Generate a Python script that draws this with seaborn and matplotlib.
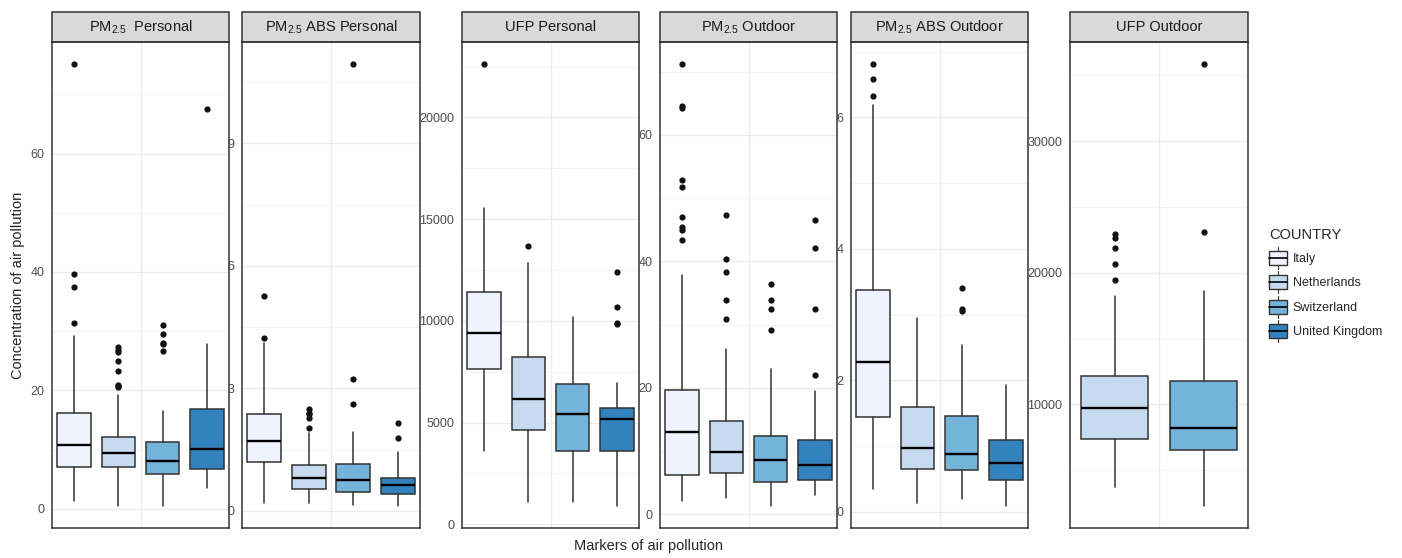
import numpy as np
import pandas as pd
import seaborn as sns
import matplotlib
matplotlib.use("Agg")
import matplotlib.pyplot as plt
from matplotlib.patches import Rectangle, Patch
from matplotlib.lines import Line2D
from matplotlib.legend_handler import HandlerBase

# ---------------- data ----------------
countries = ["Italy", "Netherlands", "Switzerland", "United Kingdom"]
country_colors = ["#eff3ff", "#c6dbef", "#74b3da", "#3182bd"]

# five-number summaries per country: [whisker low, Q1, median, Q3, whisker high]
pm25_personal_box = [[1.4, 7.1, 10.8, 16.2, 29.2],
                     [0.5, 7.0, 9.4, 12.2, 19.3],
                     [0.5, 5.85, 8.15, 11.3, 16.5],
                     [3.6, 6.7, 10.1, 16.8, 27.8]]
pm25_personal_out = [[31.3, 37.4, 39.7, 75.1],
                     [20.5, 20.7, 20.9, 23.3, 25.0, 26.5, 26.9, 27.4],
                     [26.6, 27.8, 28.0, 29.5, 31.1],
                     [67.6]]

pm25abs_personal_box = [[0.18, 1.20, 1.70, 2.38, 4.12],
                        [0.20, 0.53, 0.81, 1.12, 1.91],
                        [0.15, 0.47, 0.76, 1.14, 1.94],
                        [0.12, 0.41, 0.62, 0.81, 1.43]]
pm25abs_personal_out = [[4.24, 5.26],
                        [2.04, 2.28, 2.36, 2.40, 2.50],
                        [2.61, 3.22, 10.94],
                        [1.79, 2.16]]

ufp_personal_box = [[3600, 7640, 9410, 11410, 15550],
                    [1110, 4650, 6170, 8220, 12850],
                    [1110, 3600, 5400, 6880, 10180],
                    [900, 3600, 5190, 5730, 6950]]
ufp_personal_out = [[22620],
                    [13700],
                    [],
                    [9820, 9900, 10680, 12410]]

pm25_outdoor_box = [[2.0, 6.2, 13.0, 19.7, 37.9],
                    [2.6, 6.5, 9.9, 14.8, 26.1],
                    [1.3, 5.05, 8.5, 12.4, 23.0],
                    [3.0, 5.4, 7.7, 11.8, 19.5]]
pm25_outdoor_out = [[43.4, 44.9, 45.5, 47.0, 51.8, 52.9, 64.2, 64.5, 71.2],
                    [30.8, 33.9, 38.3, 40.4, 47.3],
                    [29.2, 32.4, 33.9, 36.4],
                    [22.0, 32.4, 42.1, 46.5]]

pm25abs_outdoor_box = [[0.34, 1.44, 2.28, 3.37, 6.19],
                       [0.14, 0.65, 0.97, 1.60, 2.95],
                       [0.19, 0.63, 0.88, 1.46, 2.53],
                       [0.09, 0.49, 0.75, 1.09, 1.93]]
pm25abs_outdoor_out = [[6.33, 6.58, 6.81],
                       [],
                       [3.05, 3.08, 3.40],
                       []]

ufp_outdoor_countries = ["Netherlands", "Switzerland"]
ufp_outdoor_box = [[3740, 7390, 9720, 12150, 18220],
                   [2280, 6530, 8220, 11770, 18600]]
ufp_outdoor_out = [[19415, 20630, 21890, 22650, 22910],
                   [23080, 35860]]

panel_titles = [r"PM$_{2.5}$  Personal", r"PM$_{2.5}$ ABS Personal", "UFP Personal",
                r"PM$_{2.5}$ Outdoor", r"PM$_{2.5}$ ABS Outdoor", "UFP Outdoor"]
panel_ticks = [[0, 20, 40, 60], [0, 3, 6, 9], [0, 5000, 10000, 15000, 20000],
               [0, 20, 40, 60], [0, 2, 4, 6], [10000, 20000, 30000]]

# ---------------- style ----------------
sns.set_theme(style="white")
plt.rcParams['font.family'] = ['Liberation Sans', 'DejaVu Sans']
plt.rcParams['mathtext.fontset'] = 'custom'
plt.rcParams['mathtext.rm'] = 'Liberation Sans'
plt.rcParams['mathtext.it'] = 'Liberation Sans:italic'
plt.rcParams['mathtext.default'] = 'regular'

W, H = 1402, 558
fig = plt.figure(figsize=(W / 100, H / 100), dpi=100)
fig.patch.set_facecolor("white")

panel_x = [(52, 229), (242, 420), (462, 639), (660, 837), (851, 1028), (1070, 1248)]
top_px, bot_px = 42, 528
strip_px = 30

panel_data = [
    (countries, pm25_personal_box, pm25_personal_out),
    (countries, pm25abs_personal_box, pm25abs_personal_out),
    (countries, ufp_personal_box, ufp_personal_out),
    (countries, pm25_outdoor_box, pm25_outdoor_out),
    (countries, pm25abs_outdoor_box, pm25abs_outdoor_out),
    (ufp_outdoor_countries, ufp_outdoor_box, ufp_outdoor_out),
]
color_of = dict(zip(countries, country_colors))

for (x0, x1), title, ticks, (cats, boxes, outs) in zip(panel_x, panel_titles, panel_ticks, panel_data):
    ax = fig.add_axes([x0 / W, (H - bot_px) / H, (x1 - x0) / W, (bot_px - top_px) / H])
    n = len(cats)
    stats = [dict(whislo=b[0], q1=b[1], med=b[2], q3=b[3], whishi=b[4], fliers=o, label=c)
             for c, b, o in zip(cats, boxes, outs)]
    bp = ax.bxp(stats, positions=list(range(n)), widths=0.76, patch_artist=True,
                showcaps=False, showfliers=True,
                boxprops=dict(edgecolor="#333333", linewidth=1.1),
                medianprops=dict(color="black", linewidth=1.7, solid_capstyle="butt"),
                whiskerprops=dict(color="#333333", linewidth=1.1),
                flierprops=dict(marker="o", markerfacecolor="#111111",
                                markeredgecolor="none", markersize=4.5))
    for patch, c in zip(bp["boxes"], cats):
        patch.set_facecolor(color_of[c])
        patch.set_zorder(2)

    vals = [v for b in boxes for v in b] + [v for o in outs for v in o]
    lo, hi = min(vals), max(vals)
    pad = 0.05 * (hi - lo)
    ax.set_ylim(lo - pad, hi + pad)
    ax.set_xlim(-0.5, n - 0.5)

    step = ticks[1] - ticks[0]
    minors = [t for t in np.arange(ticks[0] - step / 2, hi + pad + step, step)
              if lo - pad <= t <= hi + pad]
    ax.set_yticks(ticks)
    ax.set_yticklabels([str(t) for t in ticks])
    ax.set_yticks(minors, minor=True)
    ax.set_xticks([(n - 1) / 2])
    ax.set_xticklabels([""])
    ax.grid(which="major", color="#ebebeb", linewidth=0.9)
    ax.grid(which="minor", axis="y", color="#f0f0f0", linewidth=0.6)
    ax.set_axisbelow(True)
    ax.tick_params(axis="y", which="both", length=0, pad=5.5, labelsize=9, labelcolor="#4d4d4d")
    ax.tick_params(axis="x", length=0)
    for s in ax.spines.values():
        s.set_color("#333333")
        s.set_linewidth(1.1)
    ax.set_xlabel("")
    ax.set_ylabel("")

    sh = strip_px / (bot_px - top_px)
    ax.add_patch(Rectangle((0, 1), 1, sh, transform=ax.transAxes, clip_on=False,
                           facecolor="#d9d9d9", edgecolor="#333333", linewidth=1.1))
    ax.text(0.5, 1 + sh / 2, title, transform=ax.transAxes, ha="center", va="center",
            fontsize=10.5, color="#1a1a1a")


class BoxKey(HandlerBase):
    def create_artists(self, legend, orig_handle, xdescent, ydescent, width, height, fontsize, trans):
        fc = orig_handle.get_facecolor()
        x0, y0 = -xdescent, -ydescent
        bh = height * 0.8
        by = y0 + (height - bh) / 2
        rect = Rectangle((x0, by), width, bh, facecolor=fc, edgecolor="#333333",
                         linewidth=1.0, transform=trans)
        med = Line2D([x0, x0 + width], [y0 + height / 2] * 2, color="black", lw=1.2, transform=trans)
        w1 = Line2D([x0 + width / 2] * 2, [y0 - height * 0.12, by], color="#333333", lw=0.8, transform=trans)
        w2 = Line2D([x0 + width / 2] * 2, [by + bh, y0 + height * 1.12], color="#333333", lw=0.8, transform=trans)
        return [w1, w2, rect, med]


handles = [Patch(facecolor=c, label=k) for k, c in zip(countries, country_colors)]
fig.legend(handles=handles, labels=countries, title="COUNTRY", loc="upper left",
           bbox_to_anchor=(1269 / W, 1 - 228 / H), frameon=False,
           handler_map={Patch: BoxKey()}, fontsize=9, title_fontsize=10.5,
           handlelength=1.45, handleheight=1.8, labelspacing=0.55, handletextpad=0.45,
           borderpad=0, borderaxespad=0, alignment="left")

fig.text(648 / W, 1 - 546 / H, "Markers of air pollution", ha="center", va="center", fontsize=10.5)
fig.text(18 / W, 1 - 285 / H, "Concentration of air pollution", rotation=90,
         ha="center", va="center", fontsize=10.5)

fig.savefig("out.png", dpi=100)
